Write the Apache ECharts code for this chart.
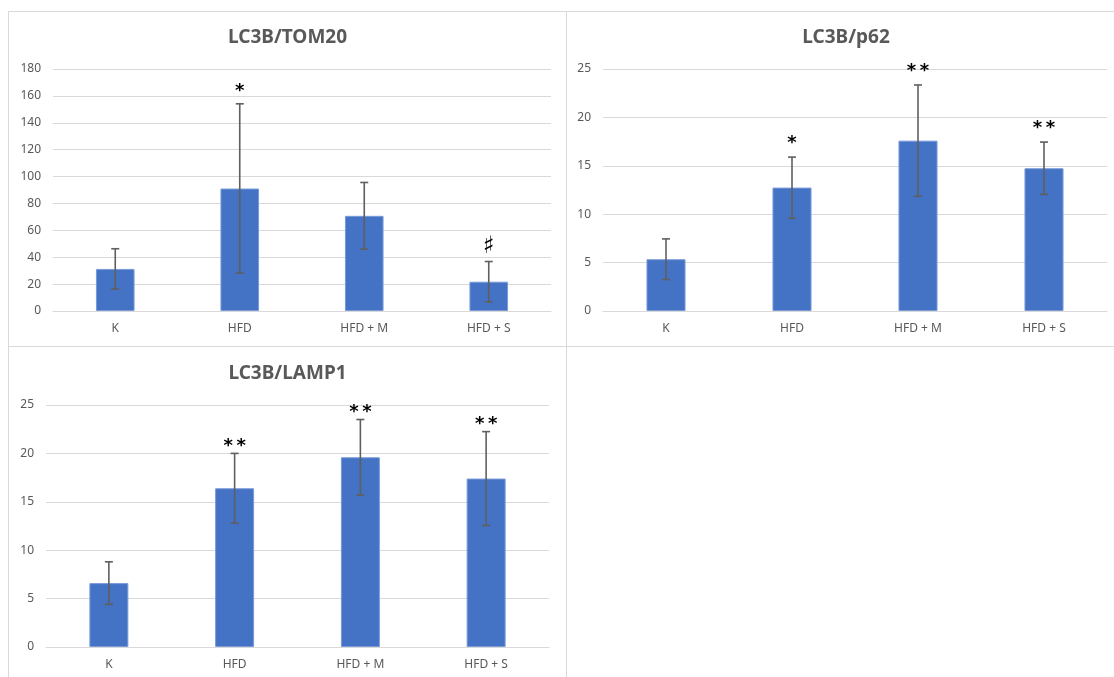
<!DOCTYPE html>
<html>
<head>
<meta charset="utf-8">
<script src="https://cdn.jsdelivr.net/npm/echarts@6/dist/echarts.min.js"></script>
<style>
  html, body { margin: 0; padding: 0; background: #fff; overflow: hidden; }
  body { width: 1114px; height: 677px; position: relative; }
  .panel { position: absolute; box-sizing: border-box; border: 1px solid #d9d9d9; background: #fff; }
  #c1 { left: 8px; top: 11px; width: 559px; height: 336px; }
  #c2 { left: 566px; top: 11px; width: 560px; height: 336px; }
  #c3 { left: 8px; top: 346px; width: 559px; height: 345px; }
</style>
</head>
<body>
<div id="c1" class="panel"></div>
<div id="c2" class="panel"></div>
<div id="c3" class="panel"></div>
<script>
// groups on the x axis
const categories = ['K', 'HFD', 'HFD + M', 'HFD + S'];

// LC3B/TOM20
const tom20Mean = [31.3, 91.1, 70.8, 21.8];
const tom20Sd = [15.0, 63.0, 24.8, 15.0];
const tom20Marks = ['', '*', '', '\u266F'];

// LC3B/p62
const p62Mean = [5.35, 12.75, 17.6, 14.75];
const p62Sd = [2.1, 3.15, 5.75, 2.7];
const p62Marks = ['', '*', '**', '**'];

// LC3B/LAMP1
const lamp1Mean = [6.6, 16.4, 19.6, 17.4];
const lamp1Sd = [2.2, 3.6, 3.9, 4.85];
const lamp1Marks = ['', '**', '**', '**'];

// y axis ranges
const tom20Axis = { max: 180, interval: 20 };
const p62Axis = { max: 25, interval: 5 };
const lamp1Axis = { max: 25, interval: 5 };

const textColor = '#595959';
const gridColor = '#d9d9d9';
const barColor = '#4472c4';
const errColor = '#5f5f5f';
const font = '"Noto Sans", "DejaVu Sans", sans-serif';

function makeChart(id, title, mean, sd, marks, axis, layout) {
  const chart = echarts.init(document.getElementById(id));

  const errData = categories.map((c, i) => [i, mean[i], sd[i]]);

  const option = {
    animation: false,
    title: {
      text: title,
      left: 'center',
      top: layout.titleTop,
      textStyle: { color: textColor, fontSize: 19, fontWeight: 'bold', fontFamily: font },
    },
    grid: layout.grid,
    xAxis: {
      type: 'category',
      data: categories,
      axisTick: { show: false },
      axisLine: { lineStyle: { color: gridColor, width: 1 } },
      axisLabel: { color: textColor, fontSize: 12, fontFamily: font, margin: 12 },
    },
    yAxis: {
      type: 'value',
      min: 0,
      max: axis.max,
      interval: axis.interval,
      axisLine: { show: false },
      axisTick: { show: false },
      axisLabel: { color: textColor, fontSize: 12, fontFamily: font, margin: 12 },
      splitLine: { lineStyle: { color: gridColor, width: 1 } },
    },
    series: [
      {
        type: 'bar',
        data: mean,
        barWidth: '31%',
        itemStyle: { color: barColor, borderColor: '#7a9bd8', borderWidth: 1 },
      },
      {
        type: 'custom',
        data: errData,
        z: 5,
        renderItem: (params, api) => {
          const i = api.value(0);
          const m = api.value(1);
          const s = api.value(2);
          const top = api.coord([i, m + s]);
          const bot = api.coord([i, m - s]);
          const cap = 4;
          const style = { stroke: errColor, lineWidth: 1.6 };
          const children = [
            { type: 'line', shape: { x1: top[0], y1: top[1], x2: bot[0], y2: bot[1] }, style },
            { type: 'line', shape: { x1: top[0] - cap, y1: top[1], x2: top[0] + cap, y2: top[1] }, style },
            { type: 'line', shape: { x1: bot[0] - cap, y1: bot[1], x2: bot[0] + cap, y2: bot[1] }, style },
          ];
          const mark = marks[params.dataIndex];
          if (mark) {
            const isStar = mark.indexOf('*') >= 0;
            children.push({
              type: 'text',
              style: {
                // stars are set a little apart, as in the source figure
                text: isStar ? mark.split('').join('\u2009') : mark,
                x: top[0],
                y: top[1] - (isStar ? layout.starGap : layout.sharpGap),
                align: 'center',
                verticalAlign: 'middle',
                fill: '#000',
                font: isStar ? 'bold 18px "DejaVu Sans", sans-serif' : '24px "DejaVu Sans", sans-serif',
              },
            });
          }
          return { type: 'group', children };
        },
      },
    ],
  };

  chart.setOption(option);
  return chart;
}

makeChart('c1', 'LC3B/TOM20', tom20Mean, tom20Sd, tom20Marks, tom20Axis, {
  titleTop: 11,
  grid: { left: 44, right: 15, top: 57, height: 242 },
  starGap: 12,
  sharpGap: 15,
});

makeChart('c2', 'LC3B/p62', p62Mean, p62Sd, p62Marks, p62Axis, {
  titleTop: 11,
  grid: { left: 36, right: 18, top: 57, height: 242 },
  starGap: 14,
  sharpGap: 15,
});

makeChart('c3', 'LC3B/LAMP1', lamp1Mean, lamp1Sd, lamp1Marks, lamp1Axis, {
  titleTop: 12,
  grid: { left: 37, right: 17, top: 58, height: 242 },
  starGap: 7,
  sharpGap: 15,
});
</script>
</body>
</html>
